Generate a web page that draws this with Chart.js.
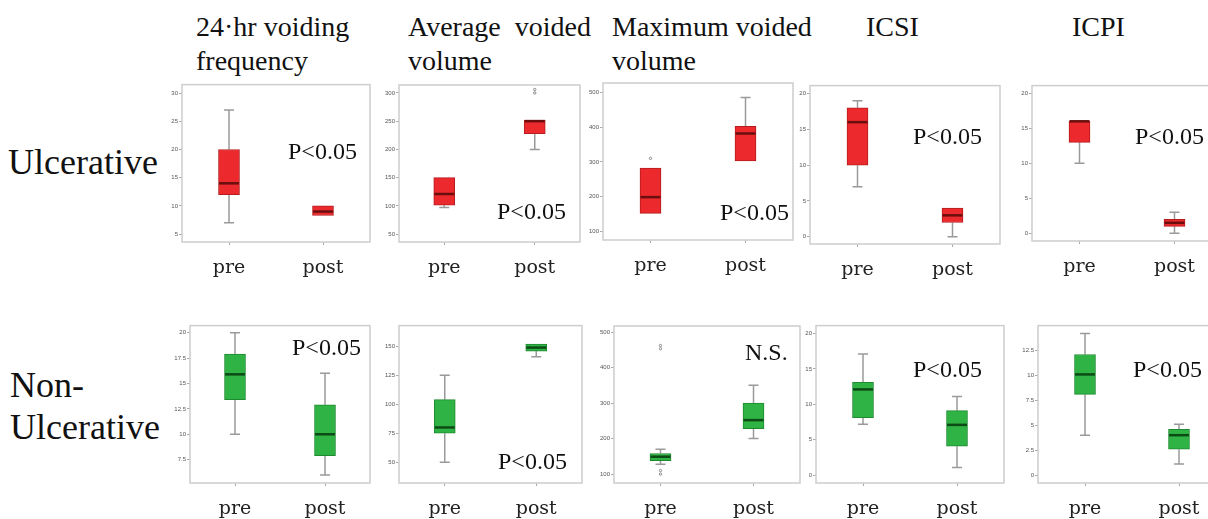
<!DOCTYPE html>
<html>
<head>
<meta charset="utf-8">
<script src="https://cdn.jsdelivr.net/npm/chart.js@4"></script>
<style>
  body { margin: 0; background: #fff; }
  #page { position: relative; width: 1208px; height: 519px; overflow: hidden; background: #fff; }
  .panel { position: absolute; }
  .title { position: absolute; font-family: "Liberation Serif", serif; font-size: 28px; line-height: 34px; color: #111; white-space: pre; }
  .row { position: absolute; font-family: "Liberation Serif", serif; font-size: 36px; line-height: 42px; color: #111; white-space: pre; }
  .note { position: absolute; font-family: "Liberation Serif", serif; font-size: 24px; line-height: 28px; color: #111; white-space: pre; }
</style>
</head>
<body>
<div id="page">
  <div class="title" style="left:196px; top:10px">24·hr voiding
frequency</div>
  <div class="title" style="left:408px; top:10px">Average  voided
volume</div>
  <div class="title" style="left:612px; top:10px">Maximum voided
volume</div>
  <div class="title" style="left:866px; top:10px">ICSI</div>
  <div class="title" style="left:1072px; top:10px">ICPI</div>

  <div class="row" style="left:8px; top:141px">Ulcerative</div>
  <div class="row" style="left:10px; top:364px">Non-
Ulcerative</div>
</div>

<script>
const groups = ['pre', 'post'];

// five-number summaries per group: [min, q1, median, q3, max]
const freqUlcer   = [[7, 12, 14, 20, 27], [8.3, 8.3, 9, 10, 10]];
const avgVolUlcer = [[97, 101, 121, 150, 150], [200, 228, 250, 252, 252]];
const maxVolUlcer = [[151, 151, 198, 282, 282], [303, 303, 382, 403, 486]];
const icsiUlcer   = [[7, 10, 16, 18, 19], [0, 2, 3, 4, 4]];
const icpiUlcer   = [[10, 13, 16, 16, 16], [0, 1, 1.5, 2, 3]];

const freqNon   = [[10, 13.4, 15.9, 17.9, 20], [6, 7.9, 10, 12.9, 16]];
const avgVolNon = [[50, 75, 80, 104, 125], [141, 146, 149, 152, 152]];
const maxVolNon = [[128, 138, 149, 158, 170], [200, 228, 252, 300, 350]];
const icsiNon   = [[7.2, 8.1, 12.1, 13.1, 17.1], [1.1, 4.1, 7.1, 9.1, 11.1]];
const icpiNon   = [[4, 8.1, 10.1, 12.1, 14.2], [1.1, 2.6, 4, 4.6, 5.1]];

// outliers per group
const avgVolUlcerOut = [[], [300, 306]];
const maxVolUlcerOut = [[310], []];
const maxVolNonOut   = [[100, 110, 453, 462], []];

// y tick labels
const ticksFreqUlcer = [5, 10, 15, 20, 25, 30];
const ticksAvgUlcer  = [50, 100, 150, 200, 250, 300];
const ticksMaxVol    = [100, 200, 300, 400, 500];
const ticksScore     = [0, 5, 10, 15, 20];
const ticksFreqNon   = [7.5, 10, 12.5, 15, 17.5, 20];
const ticksAvgNon    = [50, 75, 100, 125, 150];
const ticksIcpiNon   = [0, 2.5, 5, 7.5, 10, 12.5];

// significance notes
const notes = ['P<0.05', 'P<0.05', 'P<0.05', 'P<0.05', 'P<0.05',
               'P<0.05', 'P<0.05', 'N.S.', 'P<0.05', 'P<0.05'];

const RED = { fill: '#ec2a2e', edge: '#b41c1f', med: '#6a0e0e' };
const GREEN = { fill: '#2fb344', edge: '#1f8a30', med: '#0c4a16' };

// layout: plot-area box [left, top, right, bottom], y range, note position
const panels = [
  { stats: freqUlcer,   out: null,           ticks: ticksFreqUlcer, min: 3.6,  max: 31.5, box: [182, 82, 370, 242],   col: RED,   note: [288, 137] },
  { stats: avgVolUlcer, out: avgVolUlcerOut, ticks: ticksAvgUlcer,  min: 36,   max: 314,  box: [399, 82, 583, 242],   col: RED,   note: [497, 197] },
  { stats: maxVolUlcer, out: maxVolUlcerOut, ticks: ticksMaxVol,    min: 74,   max: 528,  box: [603, 80, 796, 240],   col: RED,   note: [720, 198] },
  { stats: icsiUlcer,   out: null,           ticks: ticksScore,     min: -1.0, max: 21.1, box: [810, 83, 1000, 244],  col: RED,   note: [913, 122] },
  { stats: icpiUlcer,   out: null,           ticks: ticksScore,     min: -1.1, max: 21.1, box: [1032, 83, 1222, 241], col: RED,   note: [1135, 122] },
  { stats: freqNon,     out: null,           ticks: ticksFreqNon,   min: 5.2,  max: 20.7, box: [190, 323, 370, 483],  col: GREEN, note: [292, 333] },
  { stats: avgVolNon,   out: null,           ticks: ticksAvgNon,    min: 32,   max: 168,  box: [399, 323, 582, 483],  col: GREEN, note: [498, 447] },
  { stats: maxVolNon,   out: maxVolNonOut,   ticks: ticksMaxVol,    min: 75,   max: 517,  box: [614, 323, 803, 483],  col: GREEN, note: [745, 338] },
  { stats: icsiNon,     out: null,           ticks: ticksScore,     min: -1.1, max: 21.1, box: [816, 323, 1004, 483], col: GREEN, note: [913, 355] },
  { stats: icpiNon,     out: null,           ticks: ticksIcpiNon,   min: -0.8, max: 15.0, box: [1038, 323, 1226, 483], col: GREEN, note: [1133, 355] }
];

const YW = 24, PT = 2, PR = 2, XH = 42;

// frame, whiskers, caps and medians drawn through the chart's own scales
const boxPlot = {
  id: 'boxPlot',
  beforeDatasetsDraw(chart) {
    const { ctx, chartArea: a, scales: { x, y } } = chart;
    const ds = chart.data.datasets[0];
    ctx.save();
    ctx.strokeStyle = '#cdcdcd';
    ctx.lineWidth = 1.5;
    ctx.strokeRect(a.left, a.top, a.right - a.left, a.bottom - a.top);
    ctx.strokeStyle = '#9a9a9a';
    ctx.lineWidth = 1.5;
    ds.stats.forEach((s, i) => {
      const cx = x.getPixelForValue(i);
      ctx.beginPath();
      if (s[0] < s[1]) {
        ctx.moveTo(cx, y.getPixelForValue(s[0]));
        ctx.lineTo(cx, y.getPixelForValue(s[1]));
        ctx.moveTo(cx - 5, y.getPixelForValue(s[0]));
        ctx.lineTo(cx + 5, y.getPixelForValue(s[0]));
      }
      if (s[4] > s[3]) {
        ctx.moveTo(cx, y.getPixelForValue(s[3]));
        ctx.lineTo(cx, y.getPixelForValue(s[4]));
        ctx.moveTo(cx - 5, y.getPixelForValue(s[4]));
        ctx.lineTo(cx + 5, y.getPixelForValue(s[4]));
      }
      ctx.stroke();
    });
    ctx.restore();
  },
  afterDatasetsDraw(chart) {
    const { ctx, scales: { x, y } } = chart;
    const ds = chart.data.datasets[0];
    ctx.save();
    ctx.strokeStyle = ds.medColor;
    ctx.lineWidth = 2.5;
    ds.stats.forEach((s, i) => {
      const cx = x.getPixelForValue(i);
      const my = y.getPixelForValue(s[2]);
      ctx.beginPath();
      ctx.moveTo(cx - 10, my);
      ctx.lineTo(cx + 10, my);
      ctx.stroke();
    });
    ctx.restore();
  }
};

const page = document.getElementById('page');

panels.forEach((p, k) => {
  const [l, t, r, b] = p.box;
  const div = document.createElement('div');
  div.className = 'panel';
  div.style.left = (l - YW) + 'px';
  div.style.top = (t - PT) + 'px';
  div.style.width = (r - l + YW + PR) + 'px';
  div.style.height = (b - t + PT + XH) + 'px';
  const canvas = document.createElement('canvas');
  div.appendChild(canvas);
  page.appendChild(div);

  const datasets = [{
    type: 'bar',
    data: p.stats.map(s => [s[1], s[3]]),
    stats: p.stats,
    medColor: p.col.med,
    backgroundColor: p.col.fill,
    borderColor: p.col.edge,
    borderWidth: 1,
    borderSkipped: false,
    barThickness: 21
  }];
  if (p.out) {
    const pts = [];
    p.out.forEach((vals, i) => vals.forEach(v => pts.push({ x: groups[i], y: v })));
    datasets.push({
      type: 'line',
      data: pts,
      showLine: false,
      pointRadius: 1.2,
      pointBackgroundColor: '#fff',
      pointBorderColor: '#888',
      pointBorderWidth: 1
    });
  }

  new Chart(canvas, {
    data: { labels: groups, datasets },
    plugins: [boxPlot],
    options: {
      responsive: true,
      maintainAspectRatio: false,
      animation: false,
      layout: { padding: { top: PT, right: PR, left: 0, bottom: 0 } },
      plugins: { legend: { display: false }, tooltip: { enabled: false } },
      scales: {
        x: {
          type: 'category',
          offset: true,
          grid: { display: true, offset: false, drawOnChartArea: false, tickLength: 3, color: '#aaa' },
          border: { display: false },
          ticks: { color: '#222', padding: 12, font: { family: 'DejaVu Serif', size: 19 } },
          afterFit(scale) { scale.height = XH; }
        },
        y: {
          type: 'linear',
          min: p.min,
          max: p.max,
          grid: { display: true, drawOnChartArea: false, tickLength: 3, color: '#aaa' },
          border: { display: false },
          ticks: { color: '#555', padding: 1, font: { family: 'Liberation Sans', size: 6 } },
          afterBuildTicks(scale) { scale.ticks = p.ticks.map(v => ({ value: v })); },
          afterFit(scale) { scale.width = YW; }
        }
      }
    }
  });

  const note = document.createElement('div');
  note.className = 'note';
  note.style.left = p.note[0] + 'px';
  note.style.top = p.note[1] + 'px';
  note.textContent = notes[k];
  page.appendChild(note);
});
</script>
</body>
</html>
